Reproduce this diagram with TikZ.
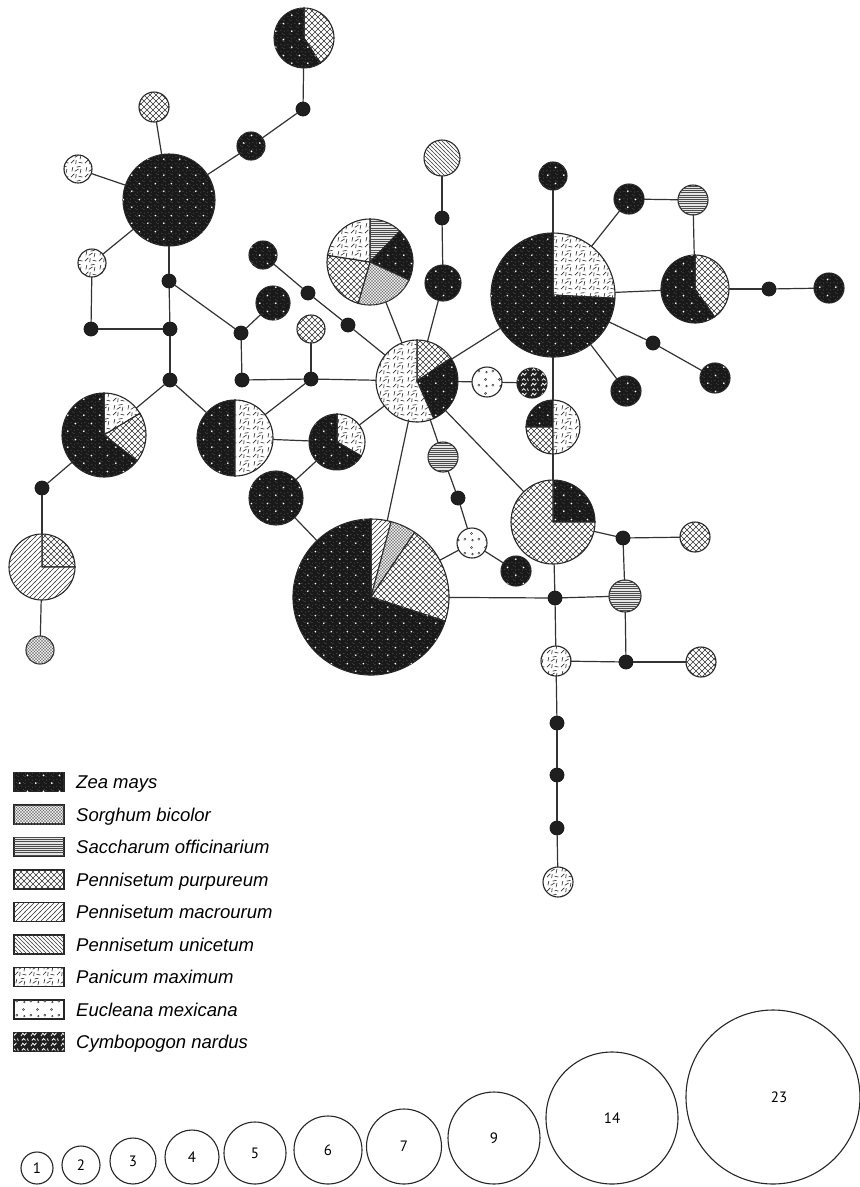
\documentclass[tikz,border=0pt]{standalone}
\usepackage{fontspec}
\setmainfont{Liberation Sans}
\newfontfamily\numfont{PT Sans}
\usetikzlibrary{patterns}

\pgfdeclarepatternformonly{zeadots}{\pgfqpoint{0pt}{0pt}}{\pgfqpoint{16pt}{16pt}}{\pgfqpoint{16pt}{16pt}}{%
 \pgfpathcircle{\pgfqpoint{4pt}{4pt}}{1pt}%
 \pgfpathcircle{\pgfqpoint{12pt}{12pt}}{1pt}%
 \pgfusepath{fill}}
\pgfdeclarepatternformonly{grain}{\pgfqpoint{0pt}{0pt}}{\pgfqpoint{7pt}{7pt}}{\pgfqpoint{7pt}{7pt}}{%
 \pgfpathcircle{\pgfqpoint{1pt}{2pt}}{0.45pt}%
 \pgfpathcircle{\pgfqpoint{4.5pt}{5pt}}{0.45pt}%
 \pgfpathcircle{\pgfqpoint{5pt}{1pt}}{0.4pt}%
 \pgfpathcircle{\pgfqpoint{2.5pt}{6pt}}{0.35pt}%
 \pgfusepath{fill}}
\pgfdeclarepatternformonly{dxhatch}{\pgfqpoint{-0.5pt}{-0.5pt}}{\pgfqpoint{6.5pt}{6.5pt}}{\pgfqpoint{6pt}{6pt}}{%
 \pgfsetlinewidth{0.55pt}%
 \pgfpathmoveto{\pgfqpoint{0pt}{0pt}}\pgfpathlineto{\pgfqpoint{6pt}{6pt}}%
 \pgfpathmoveto{\pgfqpoint{0pt}{6pt}}\pgfpathlineto{\pgfqpoint{6pt}{0pt}}%
 \pgfusepath{stroke}}
\pgfdeclarepatternformonly{fxhatch}{\pgfqpoint{-0.5pt}{-0.5pt}}{\pgfqpoint{3.5pt}{3.5pt}}{\pgfqpoint{3pt}{3pt}}{%
 \pgfsetlinewidth{0.3pt}%
 \pgfpathmoveto{\pgfqpoint{0pt}{0pt}}\pgfpathlineto{\pgfqpoint{3pt}{3pt}}%
 \pgfpathmoveto{\pgfqpoint{0pt}{3pt}}\pgfpathlineto{\pgfqpoint{3pt}{0pt}}%
 \pgfusepath{stroke}}
\pgfdeclarepatternformonly{nelines}{\pgfqpoint{-0.5pt}{-0.5pt}}{\pgfqpoint{5.5pt}{5.5pt}}{\pgfqpoint{5pt}{5pt}}{%
 \pgfsetlinewidth{0.5pt}%
 \pgfpathmoveto{\pgfqpoint{-0.5pt}{-0.5pt}}\pgfpathlineto{\pgfqpoint{5.5pt}{5.5pt}}%
 \pgfusepath{stroke}}
\pgfdeclarepatternformonly{nwlines}{\pgfqpoint{-0.5pt}{-0.5pt}}{\pgfqpoint{4.5pt}{4.5pt}}{\pgfqpoint{4pt}{4pt}}{%
 \pgfsetlinewidth{0.4pt}%
 \pgfpathmoveto{\pgfqpoint{-0.5pt}{4.5pt}}\pgfpathlineto{\pgfqpoint{4.5pt}{-0.5pt}}%
 \pgfusepath{stroke}}
\pgfdeclarepatternformonly{hlines}{\pgfqpoint{0pt}{-0.5pt}}{\pgfqpoint{1pt}{0.5pt}}{\pgfqpoint{1pt}{2.2pt}}{%
 \pgfsetlinewidth{0.5pt}%
 \pgfpathmoveto{\pgfqpoint{0pt}{0pt}}\pgfpathlineto{\pgfqpoint{1pt}{0pt}}%
 \pgfusepath{stroke}}
\pgfdeclarepatternformonly{panic}{\pgfqpoint{0pt}{0pt}}{\pgfqpoint{14pt}{14pt}}{\pgfqpoint{14pt}{14pt}}{%
 \pgfsetlinewidth{0.7pt}%
 \pgfpathmoveto{\pgfqpoint{1pt}{2pt}}\pgfpathlineto{\pgfqpoint{4.5pt}{5.5pt}}%
 \pgfpathmoveto{\pgfqpoint{6pt}{1pt}}\pgfpathlineto{\pgfqpoint{6.5pt}{5pt}}%
 \pgfpathmoveto{\pgfqpoint{9pt}{3pt}}\pgfpathlineto{\pgfqpoint{13pt}{2pt}}%
 \pgfpathmoveto{\pgfqpoint{2pt}{8pt}}\pgfpathlineto{\pgfqpoint{3pt}{12.5pt}}%
 \pgfpathmoveto{\pgfqpoint{5pt}{8pt}}\pgfpathlineto{\pgfqpoint{9pt}{10.5pt}}%
 \pgfpathmoveto{\pgfqpoint{10.5pt}{6pt}}\pgfpathlineto{\pgfqpoint{11.5pt}{10.5pt}}%
 \pgfpathmoveto{\pgfqpoint{7pt}{12.5pt}}\pgfpathlineto{\pgfqpoint{11pt}{13.2pt}}%
 \pgfusepath{stroke}}
\pgfdeclarepatternformonly{euclp}{\pgfqpoint{0pt}{0pt}}{\pgfqpoint{14pt}{14pt}}{\pgfqpoint{14pt}{14pt}}{%
 \pgfsetlinewidth{0.5pt}%
 \pgfpathcircle{\pgfqpoint{3pt}{4pt}}{1.1pt}%
 \pgfpathcircle{\pgfqpoint{10pt}{10pt}}{1.1pt}%
 \pgfpathcircle{\pgfqpoint{11pt}{3pt}}{0.9pt}%
 \pgfusepath{stroke}}
\pgfdeclarepatternformonly{cymbo}{\pgfqpoint{0pt}{0pt}}{\pgfqpoint{10pt}{10pt}}{\pgfqpoint{10pt}{10pt}}{%
 \pgfsetlinewidth{0.8pt}%
 \pgfpathmoveto{\pgfqpoint{1pt}{1pt}}\pgfpathlineto{\pgfqpoint{3pt}{4pt}}\pgfpathlineto{\pgfqpoint{5pt}{2pt}}\pgfpathlineto{\pgfqpoint{7pt}{4.5pt}}%
 \pgfpathmoveto{\pgfqpoint{2pt}{7pt}}\pgfpathlineto{\pgfqpoint{4pt}{9pt}}\pgfpathlineto{\pgfqpoint{6pt}{7pt}}%
 \pgfpathmoveto{\pgfqpoint{8pt}{9pt}}\pgfpathlineto{\pgfqpoint{9pt}{6.5pt}}%
 \pgfusepath{stroke}}

\newcommand\pslice[5]{\path[#5] (#1.center) -- ++(#3:#2) arc[start angle=#3, end angle=#4, radius=#2] -- cycle;}

\begin{document}
\begin{tikzpicture}[x=1pt,y=1pt,
  hb/.style={draw=black!85, line width=1.1pt},
  zea/.style={hb, fill=black!90, postaction={pattern=grain, pattern color=black!45}, postaction={pattern=zeadots, pattern color=white}},
  sorg/.style={hb, fill=black!8, postaction={pattern=fxhatch, pattern color=black!60}},
  sacc/.style={hb, fill=black!10, postaction={pattern=hlines, pattern color=black!70}},
  purp/.style={hb, fill=white, postaction={pattern=dxhatch, pattern color=black!80}},
  macr/.style={hb, fill=white, postaction={pattern=nelines, pattern color=black!80}},
  unic/.style={hb, fill=white, postaction={pattern=nwlines, pattern color=black!75}},
  pani/.style={hb, fill=white, postaction={pattern=panic, pattern color=black!80}},
  eucl/.style={hb, fill=white, postaction={pattern=euclp, pattern color=black!75}},
  cymb/.style={hb, fill=black!88, postaction={pattern=cymbo, pattern color=white}},
  hn/.style={circle, inner sep=0pt, outer sep=0pt, minimum size={2*#1pt}},
  dotn/.style={circle, inner sep=0pt, outer sep=0pt, minimum size=14pt, fill=black!88, draw=black!90, line width=0.8pt},
  edge/.style={draw=black!80, line width=1.2pt},
  lbox/.style={rectangle, inner sep=0pt, minimum width=50pt, minimum height=19pt},
  ltext/.style={anchor=base west, inner sep=0pt, font=\itshape\fontsize{18.5}{20}\selectfont},
  scl/.style={circle, draw=black!85, line width=1.1pt, inner sep=0pt, font=\numfont\fontsize{15}{17}\selectfont}
]
\fill[white] (0,0) rectangle (860,-1187);
\useasboundingbox (0,0) rectangle (860,-1187);

% ---------- nodes ----------
\node[hn=30] (A) at (304,-38) {};
\node[dotn] (d1) at (303,-109) {};
\node[hn=14, zea] (z1) at (251,-146) {};
\node[hn=46, zea] (B) at (169,-200) {};
\node[hn=15, purp] (s1) at (154,-107) {};
\node[hn=14, pani] (p1) at (78,-169) {};
\node[hn=14, pani] (p2) at (92,-263) {};
\node[dotn] (d2) at (169,-281) {};
\node[dotn] (d3) at (91,-329) {};
\node[dotn] (d4) at (170,-329) {};
\node[dotn] (d5) at (170,-380) {};
\node[hn=14, zea] (z2) at (263,-255) {};
\node[dotn] (d6) at (308,-293) {};
\node[dotn] (d7) at (348,-325) {};
\node[hn=17, zea] (z3) at (273,-303) {};
\node[dotn] (d8) at (241,-333) {};
\node[dotn] (d9) at (242,-380) {};
\node[dotn] (d10) at (311,-379) {};
\node[hn=14, purp] (pp1) at (311,-329) {};
\node[hn=41] (C) at (417,-381) {};
\node[hn=43] (L) at (370,-262) {};
\node[hn=18, unic] (U) at (442,-158) {};
\node[dotn] (d11) at (442,-218) {};
\node[hn=18, zea] (z4) at (443,-283) {};
\node[hn=62] (J) at (553,-295) {};
\node[hn=14, zea] (z5) at (553,-176) {};
\node[hn=15, zea] (z6) at (629,-199) {};
\node[hn=15, sacc] (sa1) at (693,-200) {};
\node[hn=34] (K) at (695,-289) {};
\node[dotn] (d12) at (769,-289) {};
\node[hn=15, zea] (z7) at (829,-288) {};
\node[dotn] (d13) at (653,-343) {};
\node[hn=15, zea] (z8) at (715,-378) {};
\node[hn=15, zea] (z9) at (626,-391) {};
\node[hn=15, eucl] (eu1) at (487,-382) {};
\node[hn=15, cymb] (cy1) at (532,-383) {};
\node[hn=27] (N) at (553,-427) {};
\node[hn=42] (O) at (553,-522) {};
\node[hn=15, sacc] (sa2) at (443,-457) {};
\node[dotn] (d14) at (458,-498) {};
\node[hn=15, eucl] (eu2) at (472,-543) {};
\node[hn=15, zea] (z10) at (516,-571) {};
\node[dotn] (d15) at (623,-538) {};
\node[hn=15, purp] (pp2) at (695,-537) {};
\node[dotn] (d16) at (555,-598) {};
\node[hn=16, sacc] (sa3) at (625,-596) {};
\node[hn=15, pani] (pa3) at (556,-661) {};
\node[dotn] (d17) at (626,-662) {};
\node[hn=15, purp] (pp3) at (701,-662) {};
\node[dotn] (d18) at (557,-723) {};
\node[dotn] (d19) at (557,-775) {};
\node[dotn] (d20) at (557,-828) {};
\node[hn=15, pani] (pa4) at (558,-882) {};
\node[hn=28] (G) at (337,-442) {};
\node[hn=38] (D) at (235,-438) {};
\node[hn=42] (E) at (104,-435) {};
\node[hn=27, zea] (H) at (276,-498) {};
\node[hn=78] (I) at (371,-597) {};
\node[dotn] (d21) at (42,-488) {};
\node[hn=33] (F) at (42,-567) {};
\node[hn=14, sorg] (so1) at (40,-650) {};

% ---------- pie slices ----------
\pslice{A}{30}{90}{-57}{purp}\pslice{A}{30}{-57}{-270}{zea}
\pslice{L}{43}{90}{46}{sacc}\pslice{L}{43}{46}{-25}{zea}\pslice{L}{43}{-25}{-106}{sorg}
\pslice{L}{43}{-106}{-189}{purp}\pslice{L}{43}{-189}{-270}{pani}
\pslice{C}{41}{90}{34}{purp}\pslice{C}{41}{34}{-66}{zea}\pslice{C}{41}{-66}{-270}{pani}
\pslice{J}{62}{90}{-3}{pani}\pslice{J}{62}{-3}{-270}{zea}
\pslice{K}{34}{90}{-55}{purp}\pslice{K}{34}{-55}{-270}{zea}
\pslice{N}{27}{90}{180}{zea}\pslice{N}{27}{180}{270}{purp}\pslice{N}{27}{90}{-90}{pani}
\pslice{O}{42}{90}{0}{zea}\pslice{O}{42}{0}{-270}{purp}
\pslice{G}{28}{90}{-30}{pani}\pslice{G}{28}{-30}{-270}{zea}
\pslice{D}{38}{90}{270}{zea}\pslice{D}{38}{90}{-90}{pani}
\pslice{E}{42}{90}{31}{pani}\pslice{E}{42}{31}{-38}{purp}\pslice{E}{42}{-38}{-270}{zea}
\pslice{I}{78}{90}{75}{macr}\pslice{I}{78}{75}{56}{sorg}\pslice{I}{78}{56}{-18}{purp}\pslice{I}{78}{-18}{-270}{zea}
\pslice{F}{33}{90}{0}{purp}\pslice{F}{33}{0}{-270}{macr}

% ---------- connectors ----------
\foreach \a/\b in {A/d1, d1/z1, z1/B, B/s1, B/p1, B/p2, B/d2, p2/d3, d3/d4, d2/d4, d4/d5,
  d2/d8, d8/z3, d8/d9, d9/d10, d10/pp1, d10/C, z2/d6, d6/d7, d7/C, d5/E, d5/D, D/d10,
  D/G, G/C, G/H, H/I, C/I, C/L, U/d11, d11/z4, z4/C, C/J, C/eu1, eu1/cy1, C/O, C/sa2,
  sa2/d14, d14/eu2, eu2/z10, eu2/I, J/z5, J/z6, z6/sa1, sa1/K, J/K, K/d12, d12/z7,
  J/d13, d13/z8, J/z9, J/N, N/O, O/d15, d15/pp2, O/d16, I/d16, d16/sa3, d15/sa3,
  sa3/d17, d16/pa3, pa3/d17, d17/pp3, pa3/d18, d18/d19, d19/d20, d20/pa4, E/d21,
  d21/F, F/so1}
  {\draw[edge] (\a) -- (\b);}

% ---------- legend ----------
\node[lbox, zea] (lb1) at (39,-782) {};
\node[lbox, sorg] (lb2) at (39,-814.5) {};
\node[lbox, sacc] (lb3) at (39,-847) {};
\node[lbox, purp] (lb4) at (39,-879.5) {};
\node[lbox, macr] (lb5) at (39,-912) {};
\node[lbox, unic] (lb6) at (39,-944.5) {};
\node[lbox, pani] (lb7) at (39,-977) {};
\node[lbox, eucl] (lb8) at (39,-1009.5) {};
\node[lbox, cymb] (lb9) at (39,-1042) {};
\node[ltext] (lt1) at (76,-788.5) {Zea mays};
\node[ltext] (lt2) at (76,-821) {Sorghum bicolor};
\node[ltext] (lt3) at (76,-853.5) {Saccharum officinarium};
\node[ltext] (lt4) at (76,-886) {Pennisetum purpureum};
\node[ltext] (lt5) at (76,-918.5) {Pennisetum macrourum};
\node[ltext] (lt6) at (76,-951) {Pennisetum unicetum};
\node[ltext] (lt7) at (76,-983.5) {Panicum maximum};
\node[ltext] (lt8) at (76,-1016) {Eucleana mexicana};
\node[ltext] (lt9) at (76,-1048.5) {Cymbopogon nardus};

% ---------- size scale ----------
\node[scl, minimum size=32pt] (c1) at (37,-1168) {1};
\node[scl, minimum size=38pt] (c2) at (81,-1165) {2};
\node[scl, minimum size=46pt] (c3) at (133,-1161) {3};
\node[scl, minimum size=54pt] (c4) at (192,-1157) {4};
\node[scl, minimum size=62pt] (c5) at (255,-1153) {5};
\node[scl, minimum size=68pt] (c6) at (328,-1150) {6};
\node[scl, minimum size=75pt] (c7) at (404,-1146.5) {7};
\node[scl, minimum size=92pt] (c9) at (494,-1138) {9};
\node[scl, minimum size=132pt] (c14) at (612,-1118) {14};
\node[scl, minimum size=174pt] (c23) at (773,-1097) {};
\node[font=\numfont\fontsize{15}{17}\selectfont, inner sep=0pt] (t23) at (779,-1097) {23};
\end{tikzpicture}
\end{document}
